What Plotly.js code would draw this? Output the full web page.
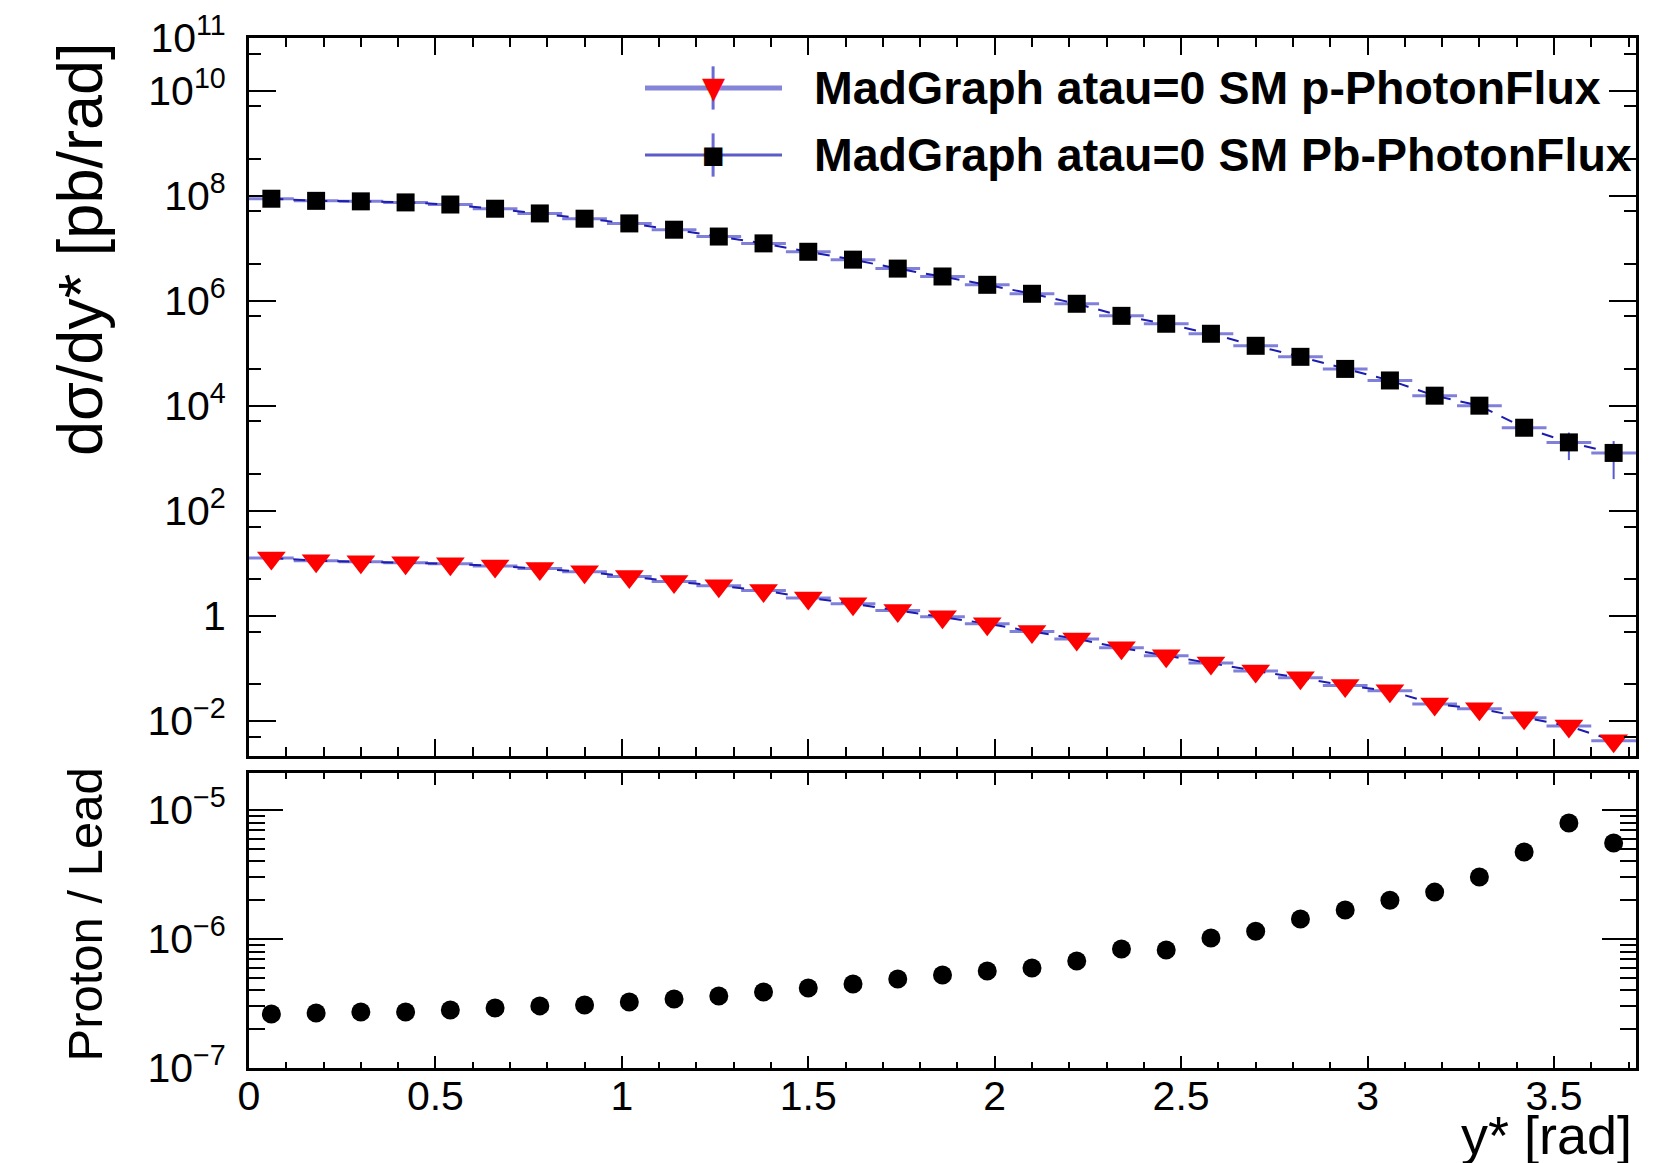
<!DOCTYPE html>
<html>
<head>
<meta charset="utf-8">
<script src="https://cdn.plot.ly/plotly-3.0.1.min.js"></script>
<style>html,body{margin:0;padding:0;background:#fff;}#chart{width:1665px;height:1163px;}</style>
</head>
<body>
<div id="chart"></div>
<script>
// ---- data ----
const ystar = [0.06, 0.18, 0.30, 0.42, 0.54, 0.66, 0.78, 0.90, 1.02, 1.14, 1.26, 1.38, 1.50, 1.62, 1.74, 1.86,
               1.98, 2.10, 2.22, 2.34, 2.46, 2.58, 2.70, 2.82, 2.94, 3.06, 3.18, 3.30, 3.42, 3.54, 3.66];
const binHalfWidth = 0.06;

const leadFlux = [8.71e7, 7.94e7, 7.76e7, 7.41e7, 6.76e7, 5.62e7, 4.57e7, 3.63e7, 2.95e7, 2.24e7, 1.66e7,
                  1.23e7, 8.51e6, 6.03e6, 4.07e6, 2.88e6, 2.00e6, 1.35e6, 8.71e5, 5.13e5, 3.63e5, 2.34e5,
                  1.38e5, 8.51e4, 5.01e4, 3.02e4, 1.55e4, 1.00e4, 3.80e3, 2.00e3, 1.26e3];
const leadErr  = [0, 0, 0, 0, 0, 0, 0, 0, 0, 0, 0, 0, 0, 0, 0, 0, 0, 0, 0, 0, 0, 0, 0, 0, 0, 0, 0, 0, 1000, 1080, 860];

const protonFlux = [12.6, 11.2, 10.7, 10.2, 9.77, 8.91, 7.94, 6.92, 5.62, 4.47, 3.72, 3.02, 2.19, 1.70, 1.26,
                    0.955, 0.708, 0.501, 0.363, 0.245, 0.174, 0.126, 0.0891, 0.0661, 0.0468, 0.0372, 0.0209,
                    0.0170, 0.0115, 0.00794, 0.00417];

const ratio = [2.62e-7, 2.67e-7, 2.72e-7, 2.72e-7, 2.82e-7, 2.92e-7, 3.03e-7, 3.08e-7, 3.25e-7, 3.43e-7,
               3.61e-7, 3.88e-7, 4.17e-7, 4.48e-7, 4.90e-7, 5.26e-7, 5.65e-7, 5.96e-7, 6.75e-7, 8.36e-7,
               8.22e-7, 1.02e-6, 1.15e-6, 1.43e-6, 1.68e-6, 2.00e-6, 2.31e-6, 3.03e-6, 4.72e-6, 7.93e-6, 5.55e-6];

const legendLabels = ["MadGraph atau=0 SM p-PhotonFlux", "MadGraph atau=0 SM Pb-PhotonFlux"];

// labelled decades of the upper panel, and the unlabelled ones in between
const topTickVals = [1e-2, 1, 1e2, 1e4, 1e6, 1e8, 1e10, 1e11];
const topTickText = ["10<sup>\u22122</sup>", "1", "10<sup>2</sup>", "10<sup>4</sup>",
                     "10<sup>6</sup>", "10<sup>8</sup>", "10<sup>10</sup>", "10<sup>11</sup>"];
const topOddDecades = [1e-1, 1e1, 1e3, 1e5, 1e7, 1e9];
const topMinorVals = [5e-3, 5e-2, 5e-1, 5, 50, 5e2, 5e3, 5e4, 5e5, 5e6, 5e7, 5e8, 5e9, 5e10];

const botTickVals = [1e-7, 1e-6, 1e-5];
const botTickText = ["10<sup>\u22127</sup>", "10<sup>\u22126</sup>", "10<sup>\u22125</sup>"];
const botMinorVals = [2e-7, 3e-7, 4e-7, 5e-7, 6e-7, 7e-7, 8e-7, 9e-7,
                      2e-6, 3e-6, 4e-6, 5e-6, 6e-6, 7e-6, 8e-6, 9e-6];

// ---- styles ----
const FONT = "Liberation Sans, Arial, Helvetica, sans-serif";
const lightBlue = "#8080da";
const darkBlue = "#1c1cb0";

function errTrace(y, yerr) {
  const t = {
    x: ystar, y: y, type: "scatter", mode: "markers", xaxis: "x", yaxis: "y",
    marker: {size: 2, opacity: 0}, showlegend: false, hoverinfo: "skip",
    error_x: {type: "constant", value: binHalfWidth, color: lightBlue, thickness: 3, width: 0}
  };
  if (yerr) t.error_y = {type: "data", array: yerr, color: "#5a5ad0", thickness: 2, width: 0};
  return t;
}

const traces = [
  errTrace(leadFlux, leadErr),
  errTrace(protonFlux, null),
  {
    x: ystar, y: leadFlux, type: "scatter", mode: "lines+markers", xaxis: "x", yaxis: "y",
    name: legendLabels[1], showlegend: false,
    line: {color: darkBlue, width: 2, dash: "12px,10px"},
    marker: {symbol: "square", size: 18, color: "#000"}
  },
  {
    x: ystar, y: protonFlux, type: "scatter", mode: "lines+markers", xaxis: "x", yaxis: "y",
    name: legendLabels[0], showlegend: false,
    line: {color: darkBlue, width: 2, dash: "12px,10px"},
    marker: {symbol: "triangle-down", size: 25, color: "#ff0000"}
  },
  {
    x: ystar, y: ratio, type: "scatter", mode: "markers", xaxis: "x2", yaxis: "y2",
    name: "Proton / Lead", showlegend: false,
    marker: {symbol: "circle", size: 19, color: "#000"}
  }
];

const commonAxis = {
  showline: true, linecolor: "#000", linewidth: 3, mirror: "ticks",
  ticks: "inside", tickcolor: "#000", tickwidth: 2,
  showgrid: false, zeroline: false,
  tickfont: {family: FONT, size: 41, color: "#000"}
};

// legend geometry (paper coordinates)
const legRows = [0.9515, 0.8864];
const legLineX = [0.2855, 0.3843];
const legMarkX = 0.3346;
const legTextX = 0.4059;

const shapes = [];
const annotations = [];
legRows.forEach(function (ry, i) {
  shapes.push({type: "line", xref: "paper", yref: "paper", x0: legLineX[0], x1: legLineX[1], y0: ry, y1: ry,
               line: {color: i === 0 ? "#8484d8" : "#5c5cc8", width: i === 0 ? 5 : 3}});
  shapes.push({type: "line", xref: "paper", yref: "paper", x0: legMarkX, x1: legMarkX, y0: ry - 0.021, y1: ry + 0.021,
               line: {color: "#6a6ad4", width: 3}});
  annotations.push({xref: "paper", yref: "paper", x: legMarkX, y: ry, showarrow: false,
                    text: i === 0 ? "\u25BC" : "\u25A0", xanchor: "center", yanchor: "middle",
                    font: {family: "DejaVu Sans", size: i === 0 ? 30 : 24, color: i === 0 ? "#ff0000" : "#000"}});
  annotations.push({xref: "paper", yref: "paper", x: legTextX, y: ry, showarrow: false,
                    text: "<b>" + legendLabels[i] + "</b>", xanchor: "left", yanchor: "middle",
                    font: {family: FONT, size: 46.5, color: "#000"}});
});

annotations.push({xref: "paper", yref: "paper", x: -0.1218, y: 0.998, showarrow: false, textangle: -90,
                  text: "d\u03C3/dy* [pb/rad]", xanchor: "center", yanchor: "top",
                  font: {family: FONT, size: 63, color: "#000"}});
annotations.push({xref: "paper", yref: "paper", x: -0.118, y: 0.294, showarrow: false, textangle: -90,
                  text: "Proton / Lead", xanchor: "center", yanchor: "top",
                  font: {family: FONT, size: 49, color: "#000"}});
annotations.push({xref: "paper", yref: "paper", x: 0.9985, y: -0.0655, showarrow: false,
                  text: "y* [rad]", xanchor: "right", yanchor: "middle",
                  font: {family: FONT, size: 54, color: "#000"}});

const layout = {
  width: 1665, height: 1163,
  margin: {l: 249, r: 29, t: 38, b: 95, pad: 0},
  paper_bgcolor: "#fff", plot_bgcolor: "#fff",
  showlegend: false,
  xaxis: Object.assign({}, commonAxis, {
    anchor: "y", domain: [0, 1], range: [0, 3.72], showticklabels: false,
    tickmode: "linear", tick0: 0, dtick: 0.5, ticklen: 17,
    minor: {tickmode: "linear", tick0: 0, dtick: 0.1, ticks: "inside", ticklen: 9, tickwidth: 2, tickcolor: "#000"}
  }),
  yaxis: Object.assign({}, commonAxis, {
    anchor: "x", domain: [0.3029, 1], type: "log", range: [-2.67, 11.0],
    tickmode: "array", tickvals: topTickVals, ticktext: topTickText, ticklen: 27,
    ticklabelstandoff: 12,
    minor: {tickmode: "array", tickvals: topMinorVals, ticks: "inside", ticklen: 12, tickwidth: 2, tickcolor: "#000"}
  }),
  yaxis3: Object.assign({}, commonAxis, {
    anchor: "x", overlaying: "y", side: "left", type: "log", range: [-2.67, 11.0],
    tickmode: "array", tickvals: topOddDecades, ticklen: 27, showticklabels: false
  }),
  xaxis2: Object.assign({}, commonAxis, {
    anchor: "y2", domain: [0, 1], range: [0, 3.72], matches: "x",
    tickmode: "linear", tick0: 0, dtick: 0.5, ticklen: 12, ticklabelstandoff: -10,
    minor: {tickmode: "linear", tick0: 0, dtick: 0.1, ticks: "inside", ticklen: 6, tickwidth: 2, tickcolor: "#000"}
  }),
  yaxis2: Object.assign({}, commonAxis, {
    anchor: "x2", domain: [0, 0.2864], type: "log", range: [-7, -4.713],
    tickmode: "array", tickvals: botTickVals, ticktext: botTickText, ticklen: 34,
    ticklabelstandoff: 12,
    minor: {tickmode: "array", tickvals: botMinorVals, ticks: "inside", ticklen: 16, tickwidth: 2, tickcolor: "#000"}
  }),
  shapes: shapes,
  annotations: annotations
};

Plotly.newPlot("chart", traces, layout, {displayModeBar: false, staticPlot: true});
</script>
</body>
</html>
